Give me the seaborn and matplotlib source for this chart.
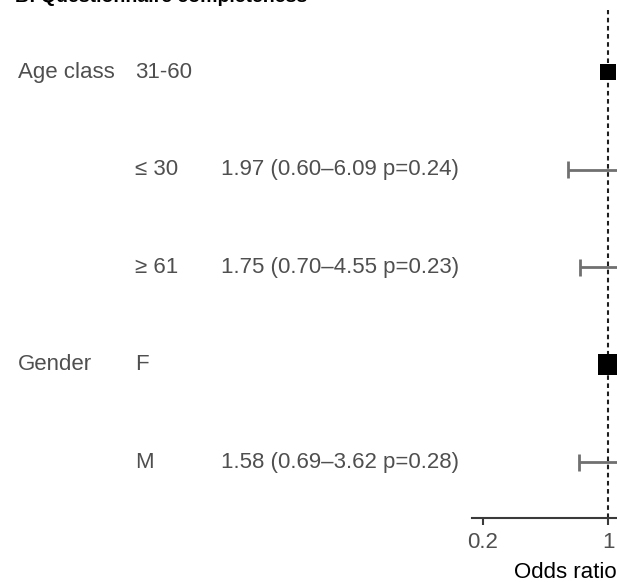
import numpy as np
import pandas as pd
import matplotlib
matplotlib.use("Agg")
import matplotlib.pyplot as plt
import seaborn as sns
from matplotlib.transforms import blended_transform_factory

# ---- data ----
groups = ["Age class", "", "", "Gender", ""]
levels = ["31-60", "≤ 30", "≥ 61", "F", "M"]
odds = [1.0, 1.97, 1.75, 1.0, 1.58]
ci_low = [np.nan, 0.60, 0.70, np.nan, 0.69]
ci_high = [np.nan, 6.09, 4.55, np.nan, 3.62]
p_values = [np.nan, 0.24, 0.23, np.nan, 0.28]
tick_values = [0.2, 1, 5]
tick_labels = ["0.2", "1", "5"]
title = "B: Questionnaire completeness"

df = pd.DataFrame({"group": groups, "level": levels, "odds": odds,
                   "lo": ci_low, "hi": ci_high, "p": p_values})
df["row"] = np.arange(len(df))[::-1] + 1  # top row highest

sns.set_theme(style="white")
plt.rcParams["font.family"] = ["Liberation Sans", "DejaVu Sans"]

W, H = 617, 582
FS = 16
fig = plt.figure(figsize=(W / 100, H / 100), dpi=100)
ax = fig.add_axes([472 / W, 64 / H, 145 / W, 508 / H])
ax.set_xscale("log")

text_color = "#4f4f4f"
bar_color = "#707070"

# confidence intervals
ci = df.dropna(subset=["lo"])
ax.hlines(ci["row"], ci["lo"], ci["hi"], color=bar_color, lw=2, zorder=2)
cap = 0.087
ax.vlines(ci["lo"], ci["row"] - cap, ci["row"] + cap, color=bar_color, lw=2, zorder=2)
ax.vlines(ci["hi"], ci["row"] - cap, ci["row"] + cap, color=bar_color, lw=2, zorder=2)

# point estimates
marker_sizes = {"31-60": 135, "≤ 30": 90, "≥ 61": 150, "F": 235, "M": 170}
df["msize"] = df["level"].map(marker_sizes)
sns.scatterplot(data=df, x="odds", y="row", size="msize", sizes=(90, 235),
                marker="s", color="black", edgecolor="black", linewidth=0,
                legend=False, ax=ax, zorder=3)

# reference line
ax.axvline(1, color="#1e1e1e", lw=1.5, ls=(0, (2.2, 1.7)), zorder=1)

# axes styling
for s in ["top", "right", "left"]:
    ax.spines[s].set_visible(False)
ax.spines["bottom"].set_color("#3a3a3a")
ax.spines["bottom"].set_linewidth(1.5)
ax.set_yticks([])
ax.set_xticks(tick_values)
ax.set_xticklabels(tick_labels)
ax.minorticks_off()
ax.tick_params(axis="x", direction="out", length=5, width=1.5, color="#3a3a3a",
               pad=5, labelsize=FS, labelcolor=text_color, bottom=True)
ax.set_ylabel("")
ax.set_xlabel("Odds ratio", loc="left", fontsize=FS, color="black")
ax.xaxis.set_label_coords((514 - 472) / 145, -0.086)

ax.set_xlim(0.174, 1.12)
ax.set_ylim(0.426, 5.636)

# text columns
tr = blended_transform_factory(fig.transFigure, ax.transData)
for _, r in df.iterrows():
    if r["group"]:
        ax.text(18 / W, r["row"], r["group"], transform=tr, va="center", ha="left",
                fontsize=FS, color=text_color, clip_on=False)
    ax.text(135 / W, r["row"], r["level"], transform=tr, va="center", ha="left",
            fontsize=FS, color=text_color, clip_on=False)
    if not np.isnan(r["lo"]):
        label = f"{r['odds']:.2f} ({r['lo']:.2f}\u2013{r['hi']:.2f} p={r['p']:.2f})"
        ax.text(221 / W, r["row"], label, transform=tr, va="center", ha="left",
                fontsize=FS, color=text_color, clip_on=False)

fig.text(15 / W, 1 - 1.5 / H, title, fontsize=14, fontweight="bold",
         color="black", va="baseline", ha="left")

fig.savefig("out.png", dpi=100)
